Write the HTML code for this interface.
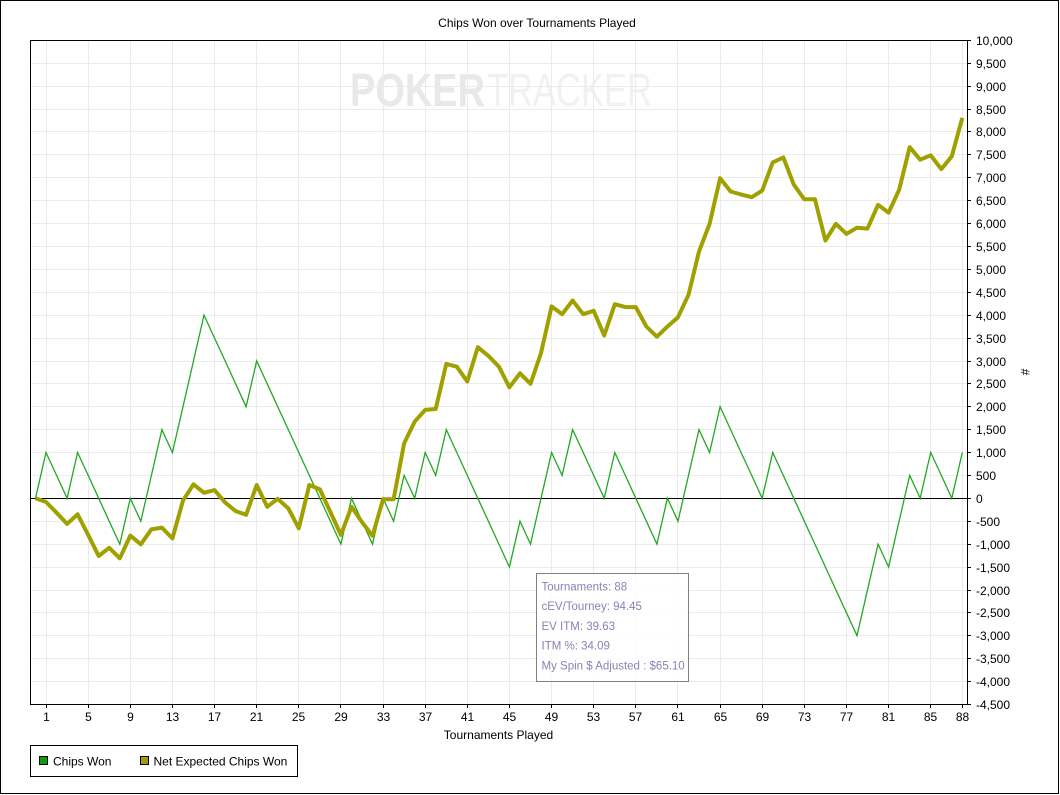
<!DOCTYPE html>
<html>
<head>
<meta charset="utf-8">
<style>
html,body{margin:0;padding:0;background:#fff;}
svg{display:block;}
text{font-family:"Liberation Sans",Arial,sans-serif;}
</style>
</head>
<body>
<svg width="1060" height="795" viewBox="0 0 1060 795" xmlns="http://www.w3.org/2000/svg">
<rect x="0" y="0" width="1060" height="795" fill="#fff"/>
<!-- outer frame -->
<rect x="0.5" y="0.5" width="1058" height="793" fill="none" stroke="#000" stroke-width="1"/>

<!-- title -->
<text x="537" y="27" font-size="12" text-anchor="middle" fill="#000">Chips Won over Tournaments Played</text>

<!-- watermark -->
<text x="350" y="106" font-size="46" font-weight="bold" fill="#e8e8e8" textLength="135" lengthAdjust="spacingAndGlyphs">POKER</text>
<text x="487" y="106" font-size="46" fill="#f1f1f1" textLength="165" lengthAdjust="spacingAndGlyphs">TRACKER</text>

<!-- grid -->
<g stroke="#ebebeb" stroke-width="1">
<line x1="31" y1="63.5" x2="967" y2="63.5"/>
<line x1="31" y1="86.5" x2="967" y2="86.5"/>
<line x1="31" y1="109.5" x2="967" y2="109.5"/>
<line x1="31" y1="131.5" x2="967" y2="131.5"/>
<line x1="31" y1="154.5" x2="967" y2="154.5"/>
<line x1="31" y1="177.5" x2="967" y2="177.5"/>
<line x1="31" y1="200.5" x2="967" y2="200.5"/>
<line x1="31" y1="223.5" x2="967" y2="223.5"/>
<line x1="31" y1="246.5" x2="967" y2="246.5"/>
<line x1="31" y1="269.5" x2="967" y2="269.5"/>
<line x1="31" y1="292.5" x2="967" y2="292.5"/>
<line x1="31" y1="315.5" x2="967" y2="315.5"/>
<line x1="31" y1="338.5" x2="967" y2="338.5"/>
<line x1="31" y1="361.5" x2="967" y2="361.5"/>
<line x1="31" y1="383.5" x2="967" y2="383.5"/>
<line x1="31" y1="406.5" x2="967" y2="406.5"/>
<line x1="31" y1="429.5" x2="967" y2="429.5"/>
<line x1="31" y1="452.5" x2="967" y2="452.5"/>
<line x1="31" y1="475.5" x2="967" y2="475.5"/>
<line x1="31" y1="521.5" x2="967" y2="521.5"/>
<line x1="31" y1="544.5" x2="967" y2="544.5"/>
<line x1="31" y1="567.5" x2="967" y2="567.5"/>
<line x1="31" y1="590.5" x2="967" y2="590.5"/>
<line x1="31" y1="612.5" x2="967" y2="612.5"/>
<line x1="31" y1="635.5" x2="967" y2="635.5"/>
<line x1="31" y1="658.5" x2="967" y2="658.5"/>
<line x1="31" y1="681.5" x2="967" y2="681.5"/>

<line x1="46.5" y1="41" x2="46.5" y2="704"/>
<line x1="88.5" y1="41" x2="88.5" y2="704"/>
<line x1="130.5" y1="41" x2="130.5" y2="704"/>
<line x1="172.5" y1="41" x2="172.5" y2="704"/>
<line x1="214.5" y1="41" x2="214.5" y2="704"/>
<line x1="256.5" y1="41" x2="256.5" y2="704"/>
<line x1="298.5" y1="41" x2="298.5" y2="704"/>
<line x1="340.5" y1="41" x2="340.5" y2="704"/>
<line x1="383.5" y1="41" x2="383.5" y2="704"/>
<line x1="425.5" y1="41" x2="425.5" y2="704"/>
<line x1="467.5" y1="41" x2="467.5" y2="704"/>
<line x1="509.5" y1="41" x2="509.5" y2="704"/>
<line x1="551.5" y1="41" x2="551.5" y2="704"/>
<line x1="593.5" y1="41" x2="593.5" y2="704"/>
<line x1="635.5" y1="41" x2="635.5" y2="704"/>
<line x1="677.5" y1="41" x2="677.5" y2="704"/>
<line x1="720.5" y1="41" x2="720.5" y2="704"/>
<line x1="762.5" y1="41" x2="762.5" y2="704"/>
<line x1="804.5" y1="41" x2="804.5" y2="704"/>
<line x1="846.5" y1="41" x2="846.5" y2="704"/>
<line x1="888.5" y1="41" x2="888.5" y2="704"/>
<line x1="930.5" y1="41" x2="930.5" y2="704"/>
<line x1="962.5" y1="41" x2="962.5" y2="704"/>
</g>

<!-- zero line -->
<line x1="30.5" y1="498.5" x2="971" y2="498.5" stroke="#000" stroke-width="1"/>

<!-- plot frame -->
<rect x="30.5" y="40.5" width="937" height="664" fill="none" stroke="#000" stroke-width="1"/>

<!-- Chips Won (green) -->
<polyline fill="none" stroke="#22a822" stroke-width="1.3" stroke-linejoin="miter" points="35.5,498.3 46.0,452.5 56.6,475.4 67.1,498.3 77.6,452.5 88.2,475.4 98.7,498.3 109.2,521.2 119.8,544.1 130.3,498.3 140.8,521.2 151.4,475.4 161.9,429.6 172.4,452.5 183.0,406.7 193.5,360.9 204.0,315.1 214.5,338.0 225.1,360.9 235.6,383.8 246.1,406.7 256.7,360.9 267.2,383.8 277.7,406.7 288.3,429.6 298.8,452.5 309.3,475.4 319.9,498.3 330.4,521.2 340.9,544.1 351.5,498.3 362.0,521.2 372.5,544.1 383.1,498.3 393.6,521.2 404.1,475.4 414.7,498.3 425.2,452.5 435.7,475.4 446.3,429.6 456.8,452.5 467.3,475.4 477.8,498.3 488.4,521.2 498.9,544.1 509.4,567.0 520.0,521.2 530.5,544.1 541.0,498.3 551.6,452.5 562.1,475.4 572.6,429.6 583.2,452.5 593.7,475.4 604.2,498.3 614.8,452.5 625.3,475.4 635.8,498.3 646.4,521.2 656.9,544.1 667.4,498.3 678.0,521.2 688.5,475.4 699.0,429.6 709.6,452.5 720.1,406.7 730.6,429.6 741.1,452.5 751.7,475.4 762.2,498.3 772.7,452.5 783.3,475.4 793.8,498.3 804.3,521.2 814.9,544.1 825.4,567.0 835.9,589.9 846.5,612.8 857.0,635.7 867.5,589.9 878.1,544.1 888.6,567.0 899.1,521.2 909.7,475.4 920.2,498.3 930.7,452.5 941.3,475.4 951.8,498.3 962.3,452.5"/>

<!-- Net Expected Chips Won (olive) -->
<polyline fill="none" stroke="#a0a000" stroke-width="4" stroke-linejoin="round" points="35.5,498.3 46.0,502.0 56.6,512.7 67.1,523.9 77.6,514.3 88.2,534.9 98.7,556.0 109.2,547.8 119.8,558.3 130.3,535.6 140.8,544.3 151.4,529.4 161.9,527.6 172.4,538.4 183.0,500.6 193.5,484.3 204.0,492.8 214.5,490.1 225.1,502.4 235.6,511.1 246.1,514.8 256.7,485.0 267.2,506.8 277.7,498.8 288.3,508.4 298.8,528.3 309.3,485.0 319.9,489.4 330.4,512.0 340.9,534.9 351.5,506.8 362.0,522.1 372.5,535.8 383.1,499.2 393.6,499.2 404.1,443.4 414.7,421.6 425.2,409.9 435.7,409.0 446.3,363.9 456.8,366.7 467.3,381.5 477.8,347.2 488.4,355.9 498.9,366.7 509.4,387.3 520.0,373.3 530.5,383.8 541.0,353.1 551.6,306.4 562.1,314.2 572.6,300.5 583.2,314.2 593.7,310.8 604.2,335.5 614.8,304.2 625.3,307.1 635.8,307.1 646.4,326.6 656.9,336.7 667.4,326.6 678.0,317.2 688.5,294.8 699.0,251.5 709.6,223.8 720.1,178.2 730.6,191.5 741.1,194.5 751.7,197.2 762.2,190.6 772.7,162.4 783.3,157.4 793.8,184.6 804.3,199.3 814.9,199.3 825.4,240.5 835.9,223.8 846.5,233.9 857.0,227.7 867.5,228.6 878.1,204.8 888.6,212.6 899.1,189.9 909.7,147.1 920.2,159.7 930.7,155.3 941.3,169.1 951.8,156.3 962.3,117.8"/>

<!-- y ticks -->
<g stroke="#000" stroke-width="1">
<line x1="967" y1="40.5" x2="971" y2="40.5"/>
<line x1="967" y1="63.5" x2="971" y2="63.5"/>
<line x1="967" y1="86.5" x2="971" y2="86.5"/>
<line x1="967" y1="109.5" x2="971" y2="109.5"/>
<line x1="967" y1="131.5" x2="971" y2="131.5"/>
<line x1="967" y1="154.5" x2="971" y2="154.5"/>
<line x1="967" y1="177.5" x2="971" y2="177.5"/>
<line x1="967" y1="200.5" x2="971" y2="200.5"/>
<line x1="967" y1="223.5" x2="971" y2="223.5"/>
<line x1="967" y1="246.5" x2="971" y2="246.5"/>
<line x1="967" y1="269.5" x2="971" y2="269.5"/>
<line x1="967" y1="292.5" x2="971" y2="292.5"/>
<line x1="967" y1="315.5" x2="971" y2="315.5"/>
<line x1="967" y1="338.5" x2="971" y2="338.5"/>
<line x1="967" y1="361.5" x2="971" y2="361.5"/>
<line x1="967" y1="383.5" x2="971" y2="383.5"/>
<line x1="967" y1="406.5" x2="971" y2="406.5"/>
<line x1="967" y1="429.5" x2="971" y2="429.5"/>
<line x1="967" y1="452.5" x2="971" y2="452.5"/>
<line x1="967" y1="475.5" x2="971" y2="475.5"/>
<line x1="967" y1="521.5" x2="971" y2="521.5"/>
<line x1="967" y1="544.5" x2="971" y2="544.5"/>
<line x1="967" y1="567.5" x2="971" y2="567.5"/>
<line x1="967" y1="590.5" x2="971" y2="590.5"/>
<line x1="967" y1="612.5" x2="971" y2="612.5"/>
<line x1="967" y1="635.5" x2="971" y2="635.5"/>
<line x1="967" y1="658.5" x2="971" y2="658.5"/>
<line x1="967" y1="681.5" x2="971" y2="681.5"/>
<line x1="967" y1="704.5" x2="971" y2="704.5"/>
</g>

<!-- y labels -->
<g font-size="12" fill="#000">
<text x="976" y="45">10,000</text>
<text x="976" y="68">9,500</text>
<text x="976" y="91">9,000</text>
<text x="976" y="114">8,500</text>
<text x="976" y="136">8,000</text>
<text x="976" y="159">7,500</text>
<text x="976" y="182">7,000</text>
<text x="976" y="205">6,500</text>
<text x="976" y="228">6,000</text>
<text x="976" y="251">5,500</text>
<text x="976" y="274">5,000</text>
<text x="976" y="297">4,500</text>
<text x="976" y="320">4,000</text>
<text x="976" y="343">3,500</text>
<text x="976" y="366">3,000</text>
<text x="976" y="388">2,500</text>
<text x="976" y="411">2,000</text>
<text x="976" y="434">1,500</text>
<text x="976" y="457">1,000</text>
<text x="976" y="480">500</text>
<text x="976" y="503">0</text>
<text x="976" y="526">-500</text>
<text x="976" y="549">-1,000</text>
<text x="976" y="572">-1,500</text>
<text x="976" y="595">-2,000</text>
<text x="976" y="617">-2,500</text>
<text x="976" y="640">-3,000</text>
<text x="976" y="663">-3,500</text>
<text x="976" y="686">-4,000</text>
<text x="976" y="709">-4,500</text>
</g>

<!-- y axis title -->
<text x="1025" y="372" font-size="12" fill="#000" text-anchor="middle" dominant-baseline="central" transform="rotate(90 1025 372)">#</text>

<!-- x ticks -->
<g stroke="#000" stroke-width="1">
<line x1="46.5" y1="704" x2="46.5" y2="708"/>
<line x1="88.5" y1="704" x2="88.5" y2="708"/>
<line x1="130.5" y1="704" x2="130.5" y2="708"/>
<line x1="172.5" y1="704" x2="172.5" y2="708"/>
<line x1="214.5" y1="704" x2="214.5" y2="708"/>
<line x1="256.5" y1="704" x2="256.5" y2="708"/>
<line x1="298.5" y1="704" x2="298.5" y2="708"/>
<line x1="340.5" y1="704" x2="340.5" y2="708"/>
<line x1="383.5" y1="704" x2="383.5" y2="708"/>
<line x1="425.5" y1="704" x2="425.5" y2="708"/>
<line x1="467.5" y1="704" x2="467.5" y2="708"/>
<line x1="509.5" y1="704" x2="509.5" y2="708"/>
<line x1="551.5" y1="704" x2="551.5" y2="708"/>
<line x1="593.5" y1="704" x2="593.5" y2="708"/>
<line x1="635.5" y1="704" x2="635.5" y2="708"/>
<line x1="677.5" y1="704" x2="677.5" y2="708"/>
<line x1="720.5" y1="704" x2="720.5" y2="708"/>
<line x1="762.5" y1="704" x2="762.5" y2="708"/>
<line x1="804.5" y1="704" x2="804.5" y2="708"/>
<line x1="846.5" y1="704" x2="846.5" y2="708"/>
<line x1="888.5" y1="704" x2="888.5" y2="708"/>
<line x1="930.5" y1="704" x2="930.5" y2="708"/>
<line x1="962.5" y1="704" x2="962.5" y2="708"/>
</g>

<!-- x labels -->
<g font-size="12" fill="#000" text-anchor="middle">
<text x="46.5" y="721">1</text>
<text x="88.5" y="721">5</text>
<text x="130.5" y="721">9</text>
<text x="172.5" y="721">13</text>
<text x="214.5" y="721">17</text>
<text x="256.5" y="721">21</text>
<text x="298.5" y="721">25</text>
<text x="341" y="721">29</text>
<text x="383.5" y="721">33</text>
<text x="425.5" y="721">37</text>
<text x="467.5" y="721">41</text>
<text x="509.5" y="721">45</text>
<text x="551.5" y="721">49</text>
<text x="593.5" y="721">53</text>
<text x="635.5" y="721">57</text>
<text x="678" y="721">61</text>
<text x="720.5" y="721">65</text>
<text x="762.5" y="721">69</text>
<text x="804.5" y="721">73</text>
<text x="846.5" y="721">77</text>
<text x="888.5" y="721">81</text>
<text x="930.5" y="721">85</text>
<text x="962.5" y="721">88</text>
</g>

<!-- x axis title -->
<text x="498.5" y="739" font-size="12" text-anchor="middle" fill="#000">Tournaments Played</text>

<!-- info box -->
<rect x="536.5" y="573.5" width="152" height="108" fill="#fff" fill-opacity="0.85" stroke="#808080" stroke-width="1"/>
<g font-size="11.5" fill="#8f7fb3">
<text x="541.5" y="590.5">Tournaments: 88</text>
<text x="541.5" y="610">cEV/Tourney: 94.45</text>
<text x="541.5" y="630">EV ITM: 39.63</text>
<text x="541.5" y="649.5">ITM %: 34.09</text>
<text x="541.5" y="669.5">My Spin $ Adjusted : $65.10</text>
</g>

<!-- legend -->
<rect x="30.5" y="745.5" width="267" height="31" fill="#fff" stroke="#000" stroke-width="1"/>
<rect x="39.5" y="756.5" width="8" height="8" fill="#0c9c0c" stroke="#000" stroke-width="1"/>
<text x="53" y="765.5" font-size="12" fill="#000">Chips Won</text>
<rect x="140.5" y="756.5" width="8" height="8" fill="#a0a000" stroke="#000" stroke-width="1"/>
<text x="153.5" y="765.5" font-size="12" fill="#000">Net Expected Chips Won</text>
</svg>
</body>
</html>
